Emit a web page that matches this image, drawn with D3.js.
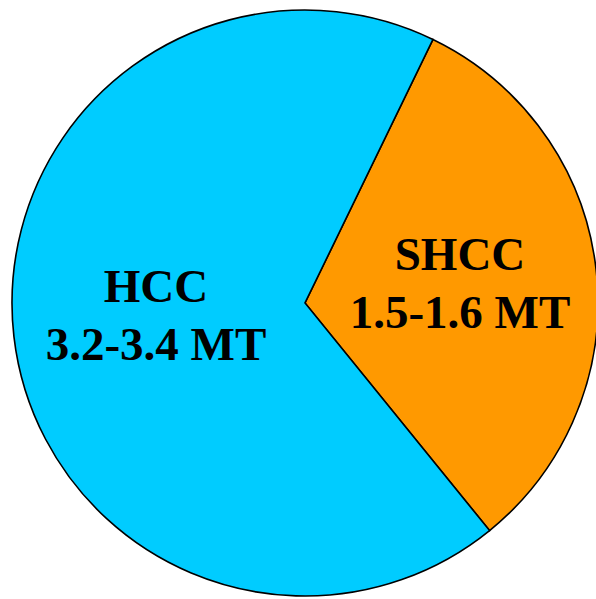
<!DOCTYPE html>
<html>
<head>
<meta charset="utf-8">
<script src="https://cdn.jsdelivr.net/npm/d3@7"></script>
<style>
  html, body { margin: 0; padding: 0; background: #fff; }
  svg { display: block; }
</style>
</head>
<body>
<svg id="chart" width="596" height="599"></svg>
<script>
// Market split (million tonnes), midpoint of each stated range
const categories = ["SHCC", "HCC"];
const values = [1.55, 3.3];
const rangeLabels = ["1.5-1.6 MT", "3.2-3.4 MT"];
const colors = ["#FF9900", "#00CCFF"];

const svg = d3.select("#chart");
const cx = 305, cy = 303, radius = 293;

const start = 25.9 * Math.PI / 180;
const pie = d3.pie().sort(null).value(d => d.value)
  .startAngle(start).endAngle(start + 2 * Math.PI);

const data = categories.map((c, i) => ({ name: c, value: values[i], label: rangeLabels[i], color: colors[i] }));
const arcs = pie(data);
const arc = d3.arc().innerRadius(0).outerRadius(radius);

const g = svg.append("g").attr("transform", `translate(${cx},${cy})`);

g.selectAll("path.slice")
  .data(arcs)
  .join("path")
  .attr("class", "slice")
  .attr("d", arc)
  .attr("fill", d => d.data.color)
  .attr("stroke", "#000")
  .attr("stroke-width", 1.6)
  .attr("stroke-linejoin", "miter");

// Label positions for each slice (name line, range line)
const labelPos = { SHCC: [460, 270], HCC: [156, 302] };
const lineGap = 58;

const labels = svg.selectAll("g.label")
  .data(arcs)
  .join("g")
  .attr("class", "label")
  .attr("transform", d => `translate(${labelPos[d.data.name][0]},${labelPos[d.data.name][1]})`);

labels.append("text")
  .attr("text-anchor", "middle")
  .attr("font-family", "'Liberation Serif', 'Times New Roman', serif")
  .attr("font-weight", "bold")
  .attr("font-size", 47)
  .attr("fill", "#000")
  .text(d => d.data.name);

labels.append("text")
  .attr("text-anchor", "middle")
  .attr("y", lineGap)
  .attr("font-family", "'Liberation Serif', 'Times New Roman', serif")
  .attr("font-weight", "bold")
  .attr("font-size", 47)
  .attr("fill", "#000")
  .text(d => d.data.label);
</script>
</body>
</html>
